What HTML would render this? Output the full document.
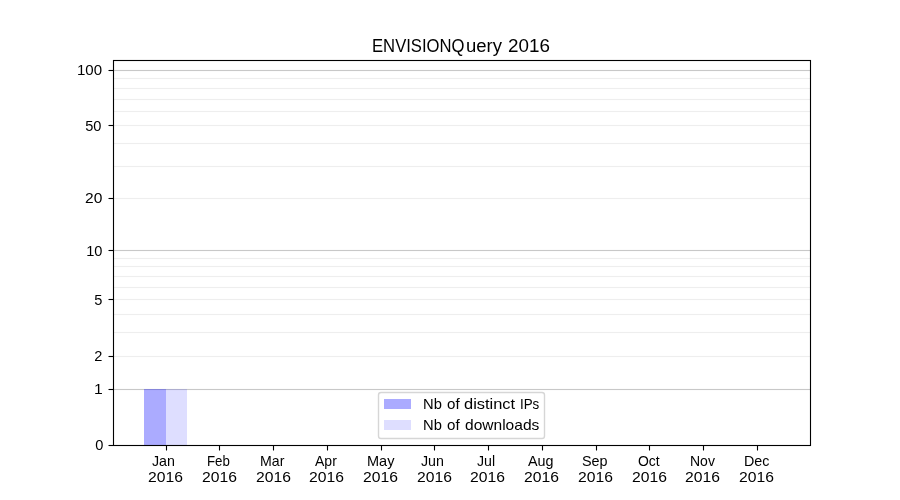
<!DOCTYPE html>
<html lang="en">
<head>
<meta charset="utf-8">
<title>ENVISIONQuery 2016</title>
<style>
html,body{margin:0;padding:0;background:#fff;}
body{width:900px;height:500px;overflow:hidden;}
#fig{position:relative;width:900px;height:500px;overflow:hidden;background:#fff;font-family:"Liberation Sans",sans-serif;color:#000;}
#fig svg{position:absolute;left:0;top:0;}
#txt{position:absolute;left:0;top:0;width:900px;height:500px;will-change:transform;}
.t{position:absolute;white-space:nowrap;line-height:1;transform-origin:0 0;margin:0;padding:0;}
</style>
</head>
<body>
<div id="fig">
<svg width="900" height="500" viewBox="0 0 900 500">
<rect x="0" y="0" width="900" height="500" fill="#ffffff"/>
<g stroke="none">
<rect x="113" y="388.945" width="697.5" height="1.11" fill="#c8c8c8"/>
<rect x="113" y="355.945" width="697.5" height="1.11" fill="#eeeeee"/>
<rect x="113" y="331.945" width="697.5" height="1.11" fill="#eeeeee"/>
<rect x="113" y="313.945" width="697.5" height="1.11" fill="#eeeeee"/>
<rect x="113" y="298.945" width="697.5" height="1.11" fill="#eeeeee"/>
<rect x="113" y="286.945" width="697.5" height="1.11" fill="#eeeeee"/>
<rect x="113" y="275.945" width="697.5" height="1.11" fill="#eeeeee"/>
<rect x="113" y="265.945" width="697.5" height="1.11" fill="#eeeeee"/>
<rect x="113" y="257.945" width="697.5" height="1.11" fill="#eeeeee"/>
<rect x="113" y="249.945" width="697.5" height="1.11" fill="#c8c8c8"/>
<rect x="113" y="197.945" width="697.5" height="1.11" fill="#eeeeee"/>
<rect x="113" y="165.945" width="697.5" height="1.11" fill="#eeeeee"/>
<rect x="113" y="142.945" width="697.5" height="1.11" fill="#eeeeee"/>
<rect x="113" y="124.945" width="697.5" height="1.11" fill="#eeeeee"/>
<rect x="113" y="110.945" width="697.5" height="1.11" fill="#eeeeee"/>
<rect x="113" y="98.945" width="697.5" height="1.11" fill="#eeeeee"/>
<rect x="113" y="87.945" width="697.5" height="1.11" fill="#eeeeee"/>
<rect x="113" y="77.945" width="697.5" height="1.11" fill="#eeeeee"/>
<rect x="113" y="69.945" width="697.5" height="1.11" fill="#c8c8c8"/>
</g>
<rect x="144" y="389" width="22" height="56.5" fill="#0000ff" fill-opacity="0.33"/>
<rect x="166" y="389" width="21" height="56.5" fill="#0000ff" fill-opacity="0.13"/>
<g stroke="#000000" stroke-width="1.11" fill="none">
<line x1="166.5" y1="445.5" x2="166.5" y2="450.5"/>
<line x1="219.5" y1="445.5" x2="219.5" y2="450.5"/>
<line x1="273.5" y1="445.5" x2="273.5" y2="450.5"/>
<line x1="327.5" y1="445.5" x2="327.5" y2="450.5"/>
<line x1="381.5" y1="445.5" x2="381.5" y2="450.5"/>
<line x1="434.5" y1="445.5" x2="434.5" y2="450.5"/>
<line x1="488.5" y1="445.5" x2="488.5" y2="450.5"/>
<line x1="542.5" y1="445.5" x2="542.5" y2="450.5"/>
<line x1="596.5" y1="445.5" x2="596.5" y2="450.5"/>
<line x1="649.5" y1="445.5" x2="649.5" y2="450.5"/>
<line x1="703.5" y1="445.5" x2="703.5" y2="450.5"/>
<line x1="757.5" y1="445.5" x2="757.5" y2="450.5"/>
<line x1="108.5" y1="445.5" x2="113.5" y2="445.5"/>
<line x1="108.5" y1="389.5" x2="113.5" y2="389.5"/>
<line x1="108.5" y1="356.5" x2="113.5" y2="356.5"/>
<line x1="108.5" y1="299.5" x2="113.5" y2="299.5"/>
<line x1="108.5" y1="250.5" x2="113.5" y2="250.5"/>
<line x1="108.5" y1="198.5" x2="113.5" y2="198.5"/>
<line x1="108.5" y1="125.5" x2="113.5" y2="125.5"/>
<line x1="108.5" y1="70.5" x2="113.5" y2="70.5"/>
<rect x="113.5" y="60.5" width="697" height="385"/>
</g>
<rect x="378.5" y="392.5" width="166" height="46" rx="2.6" ry="2.6" fill="#ffffff" fill-opacity="0.8" stroke="#cccccc" stroke-opacity="0.8" stroke-width="1.39"/>
<rect x="384" y="399" width="27" height="10" fill="#0000ff" fill-opacity="0.33"/>
<rect x="384" y="420" width="27" height="10" fill="#0000ff" fill-opacity="0.13"/>
</svg>
<div id="txt">
<div class="t" id="title_a" style="left:372.09px;top:38.00px;font-size:17.60px;transform:scaleX(0.9466);">ENVISIONQ</div>
<div class="t" id="title_c" style="left:466.09px;top:38.00px;font-size:17.60px;transform:scaleX(1.0519);">uery</div>
<div class="t" id="title_b" style="left:507.50px;top:38.00px;font-size:17.60px;transform:scaleX(1.0700);">2016</div>
<div class="t" id="y0" style="left:95.25px;top:438.00px;font-size:14.60px;transform:scaleX(1.0000);">0</div>
<div class="t" id="y1" style="left:93.50px;top:382.00px;font-size:14.60px;transform:scaleX(1.0750);">1</div>
<div class="t" id="y2" style="left:94.25px;top:349.00px;font-size:14.60px;transform:scaleX(1.0000);">2</div>
<div class="t" id="y5" style="left:94.25px;top:293.00px;font-size:14.60px;transform:scaleX(1.0000);">5</div>
<div class="t" id="y10" style="left:86.25px;top:244.00px;font-size:14.60px;transform:scaleX(1.0000);">10</div>
<div class="t" id="y20" style="left:84.50px;top:191.00px;font-size:14.60px;transform:scaleX(1.0650);">20</div>
<div class="t" id="y50" style="left:85.25px;top:119.00px;font-size:14.60px;transform:scaleX(1.0000);">50</div>
<div class="t" id="y100" style="left:76.50px;top:63.00px;font-size:14.60px;transform:scaleX(1.0300);">100</div>
<div class="t" id="mJan" style="left:152.00px;top:454.00px;font-size:14.60px;transform:scaleX(0.9750);">Jan</div>
<div class="t" id="nJan" style="left:147.50px;top:470.00px;font-size:14.60px;transform:scaleX(1.0750);">2016</div>
<div class="t" id="mFeb" style="left:206.50px;top:454.00px;font-size:14.60px;transform:scaleX(0.9100);">Feb</div>
<div class="t" id="nFeb" style="left:201.50px;top:470.00px;font-size:14.60px;transform:scaleX(1.0750);">2016</div>
<div class="t" id="mMar" style="left:259.50px;top:454.00px;font-size:14.60px;transform:scaleX(0.9700);">Mar</div>
<div class="t" id="nMar" style="left:255.50px;top:470.00px;font-size:14.60px;transform:scaleX(1.0750);">2016</div>
<div class="t" id="mApr" style="left:315.00px;top:454.00px;font-size:14.60px;transform:scaleX(0.9600);">Apr</div>
<div class="t" id="nApr" style="left:309.00px;top:470.00px;font-size:14.60px;transform:scaleX(1.0750);">2016</div>
<div class="t" id="mMay" style="left:367.00px;top:454.00px;font-size:14.60px;transform:scaleX(0.9950);">May</div>
<div class="t" id="nMay" style="left:362.50px;top:470.00px;font-size:14.60px;transform:scaleX(1.0750);">2016</div>
<div class="t" id="mJun" style="left:421.00px;top:454.00px;font-size:14.60px;transform:scaleX(0.9750);">Jun</div>
<div class="t" id="nJun" style="left:416.50px;top:470.00px;font-size:14.60px;transform:scaleX(1.0750);">2016</div>
<div class="t" id="mJul" style="left:476.50px;top:454.00px;font-size:14.60px;transform:scaleX(0.9700);">Jul</div>
<div class="t" id="nJul" style="left:469.50px;top:470.00px;font-size:14.60px;transform:scaleX(1.0750);">2016</div>
<div class="t" id="mAug" style="left:527.50px;top:454.00px;font-size:14.60px;transform:scaleX(0.9800);">Aug</div>
<div class="t" id="nAug" style="left:524.00px;top:470.00px;font-size:14.60px;transform:scaleX(1.0750);">2016</div>
<div class="t" id="mSep" style="left:582.00px;top:454.00px;font-size:14.60px;transform:scaleX(0.9850);">Sep</div>
<div class="t" id="nSep" style="left:577.50px;top:470.00px;font-size:14.60px;transform:scaleX(1.0750);">2016</div>
<div class="t" id="mOct" style="left:637.50px;top:454.00px;font-size:14.60px;transform:scaleX(0.9550);">Oct</div>
<div class="t" id="nOct" style="left:631.50px;top:470.00px;font-size:14.60px;transform:scaleX(1.0750);">2016</div>
<div class="t" id="mNov" style="left:689.50px;top:454.00px;font-size:14.60px;transform:scaleX(0.9600);">Nov</div>
<div class="t" id="nNov" style="left:684.50px;top:470.00px;font-size:14.60px;transform:scaleX(1.0750);">2016</div>
<div class="t" id="mDec" style="left:743.50px;top:454.00px;font-size:14.60px;transform:scaleX(0.9800);">Dec</div>
<div class="t" id="nDec" style="left:738.50px;top:470.00px;font-size:14.60px;transform:scaleX(1.0750);">2016</div>
<div class="t" id="l1_a" style="left:422.50px;top:397.00px;font-size:14.60px;transform:scaleX(1.0100);">Nb</div>
<div class="t" id="l1_b" style="left:446.50px;top:397.00px;font-size:14.60px;transform:scaleX(1.0350);">of</div>
<div class="t" id="l1_c" style="left:463.50px;top:397.00px;font-size:14.60px;transform:scaleX(1.1250);">distinct</div>
<div class="t" id="l1_d" style="left:519.50px;top:397.00px;font-size:14.60px;transform:scaleX(0.9150);">IPs</div>
<div class="t" id="l2_a" style="left:422.50px;top:418.00px;font-size:14.60px;transform:scaleX(1.0100);">Nb</div>
<div class="t" id="l2_b" style="left:446.50px;top:418.00px;font-size:14.60px;transform:scaleX(1.0350);">of</div>
<div class="t" id="l2_c" style="left:464.50px;top:418.00px;font-size:14.60px;transform:scaleX(1.0650);">downloads</div>
</div>
</div>
</body>
</html>
